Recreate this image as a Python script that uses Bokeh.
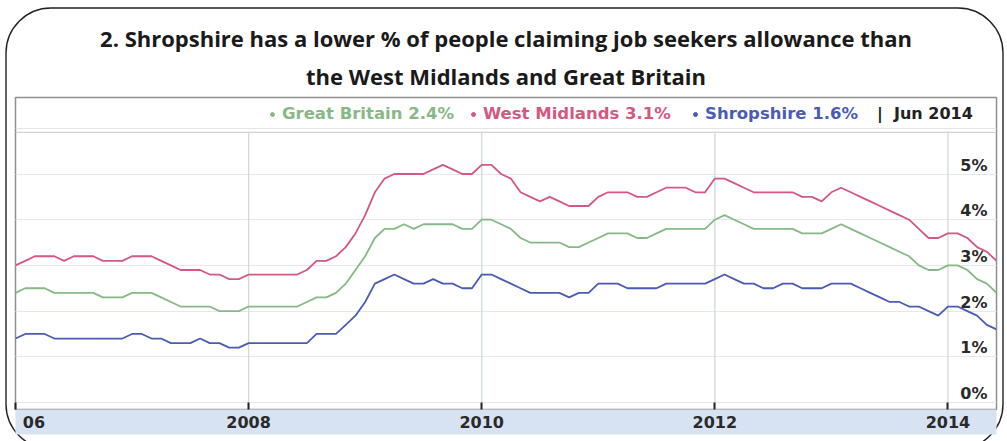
from bokeh.plotting import figure
from bokeh.models import Range1d, FixedTicker, Span, Legend, LegendItem, Grid, Title
from bokeh.core.properties import value
from bokeh.embed import file_html
from bokeh.resources import INLINE

# ---- data (monthly, Jan 2006 .. Jun 2014), % of people claiming JSA ----
start_year = 2006
great_britain = [
    2.4, 2.5, 2.5, 2.5, 2.4, 2.4, 2.4, 2.4, 2.4, 2.3, 2.3, 2.3,
    2.4, 2.4, 2.4, 2.3, 2.2, 2.1, 2.1, 2.1, 2.1, 2.0, 2.0, 2.0,
    2.1, 2.1, 2.1, 2.1, 2.1, 2.1, 2.2, 2.3, 2.3, 2.4, 2.6, 2.9,
    3.2, 3.6, 3.8, 3.8, 3.9, 3.8, 3.9, 3.9, 3.9, 3.9, 3.8, 3.8,
    4.0, 4.0, 3.9, 3.8, 3.6, 3.5, 3.5, 3.5, 3.5, 3.4, 3.4, 3.5,
    3.6, 3.7, 3.7, 3.7, 3.6, 3.6, 3.7, 3.8, 3.8, 3.8, 3.8, 3.8,
    4.0, 4.1, 4.0, 3.9, 3.8, 3.8, 3.8, 3.8, 3.8, 3.7, 3.7, 3.7,
    3.8, 3.9, 3.8, 3.7, 3.6, 3.5, 3.4, 3.3, 3.2, 3.0, 2.9, 2.9,
    3.0, 3.0, 2.9, 2.7, 2.6, 2.4,
]
west_midlands = [
    3.0, 3.1, 3.2, 3.2, 3.2, 3.1, 3.2, 3.2, 3.2, 3.1, 3.1, 3.1,
    3.2, 3.2, 3.2, 3.1, 3.0, 2.9, 2.9, 2.9, 2.8, 2.8, 2.7, 2.7,
    2.8, 2.8, 2.8, 2.8, 2.8, 2.8, 2.9, 3.1, 3.1, 3.2, 3.4, 3.7,
    4.1, 4.6, 4.9, 5.0, 5.0, 5.0, 5.0, 5.1, 5.2, 5.1, 5.0, 5.0,
    5.2, 5.2, 5.0, 4.9, 4.6, 4.5, 4.4, 4.5, 4.4, 4.3, 4.3, 4.3,
    4.5, 4.6, 4.6, 4.6, 4.5, 4.5, 4.6, 4.7, 4.7, 4.7, 4.6, 4.6,
    4.9, 4.9, 4.8, 4.7, 4.6, 4.6, 4.6, 4.6, 4.6, 4.5, 4.5, 4.4,
    4.6, 4.7, 4.6, 4.5, 4.4, 4.3, 4.2, 4.1, 4.0, 3.8, 3.6, 3.6,
    3.7, 3.7, 3.6, 3.4, 3.3, 3.1,
]
shropshire = [
    1.4, 1.5, 1.5, 1.5, 1.4, 1.4, 1.4, 1.4, 1.4, 1.4, 1.4, 1.4,
    1.5, 1.5, 1.4, 1.4, 1.3, 1.3, 1.3, 1.4, 1.3, 1.3, 1.2, 1.2,
    1.3, 1.3, 1.3, 1.3, 1.3, 1.3, 1.3, 1.5, 1.5, 1.5, 1.7, 1.9,
    2.2, 2.6, 2.7, 2.8, 2.7, 2.6, 2.6, 2.7, 2.6, 2.6, 2.5, 2.5,
    2.8, 2.8, 2.7, 2.6, 2.5, 2.4, 2.4, 2.4, 2.4, 2.3, 2.4, 2.4,
    2.6, 2.6, 2.6, 2.5, 2.5, 2.5, 2.5, 2.6, 2.6, 2.6, 2.6, 2.6,
    2.7, 2.8, 2.7, 2.6, 2.6, 2.5, 2.5, 2.6, 2.6, 2.5, 2.5, 2.5,
    2.6, 2.6, 2.6, 2.5, 2.4, 2.3, 2.2, 2.2, 2.1, 2.1, 2.0, 1.9,
    2.1, 2.1, 2.0, 1.9, 1.7, 1.6,
]
series_names = ["Great Britain", "West Midlands", "Shropshire"]
latest_label = "Jun 2014"
x_ticks = [2006, 2008, 2010, 2012, 2014]
x_tick_labels = ["\u2007\u200706", "2008", "2010", "2012", "2014"]
y_ticks = [0, 1, 2, 3, 4, 5]
y_tick_labels = ["0%", "1%", "2%", "3%", "4%", "5%"]
title_line1 = "2. Shropshire has a lower % of people claiming job seekers allowance than"
title_line2 = "the West Midlands and Great Britain"

# ---- styling ----
colors = ["#86b986", "#d4587f", "#4a5bb4"]
label_font = "DejaVu Sans"
title_font = "Open Sans"
strip_bottom = 5.91  # separator between legend strip and plotting area
y_lo, y_hi = -0.153, 6.674

x = [start_year + i / 12 for i in range(len(great_britain))]

p = figure(width=1007, height=441, output_backend="svg", toolbar_location=None,
           x_range=Range1d(x[0], x[-1]), y_range=Range1d(y_lo, y_hi),
           y_axis_location=None, min_border_left=15, min_border_right=11,
           min_border_top=97, min_border_bottom=32)
p.background_fill_color = "white"
p.border_fill_color = None
p.outline_line_color = "#8f8f8f"
p.outline_line_width = 1.5
p.xgrid.visible = False

# rounded page frame behind the figure (decoration of the source document)
frame_svg = ("<svg xmlns='http://www.w3.org/2000/svg' width='1007' height='441'>"
             "<rect x='6' y='8' width='997' height='441' rx='45' ry='45' fill='white' "
             "stroke='%23222' stroke-width='1.4'/></svg>")
p.styles = {"background-image": f"url(\"data:image/svg+xml;utf8,{frame_svg}\")",
            "background-repeat": "no-repeat", "background-color": "white"}

# two centred title lines (the Title added later sits nearer the plot)
p.title.text = title_line1
p.title.align = "center"
p.title.text_font = title_font
p.title.text_font_size = "22px"
p.title.text_font_style = "bold"
p.title.text_color = "#1a1a1a"
p.title.text_line_height = 0.85
p.title.standoff = 0
p.add_layout(Title(text=title_line2, align="center", text_font=title_font,
                   text_font_size="22px", text_font_style="bold",
                   text_color="#1a1a1a", text_line_height=0.85, standoff=13), "above")

# horizontal grid
p.add_layout(Grid(dimension=1, ticker=FixedTicker(ticks=y_ticks),
                  grid_line_color="#e7e7f1", grid_line_width=1.2))
# vertical year lines
p.segment(x0=x_ticks[1:], y0=[y_lo] * 4, x1=x_ticks[1:], y1=[strip_bottom] * 4,
          line_color="#cfdccf", line_width=1.3)
p.add_layout(Span(location=strip_bottom, dimension="width",
                  line_color="#d2d2d2", line_width=1.3))

# x axis with band
ax = p.xaxis[0]
ax.ticker = FixedTicker(ticks=x_ticks)
ax.major_label_overrides = dict(zip(x_ticks, x_tick_labels))
ax.axis_line_color = None
ax.major_tick_in = 7
ax.major_tick_out = 0
ax.major_tick_line_color = "#222222"
ax.major_tick_line_width = 2
ax.minor_tick_line_color = None
ax.major_label_standoff = 3
ax.major_label_text_font = label_font
ax.major_label_text_font_style = "bold"
ax.major_label_text_font_size = "16px"
ax.major_label_text_color = "#2a2a2a"
ax.background_fill_color = "#d7e3f3"

# y tick labels inside plot, on the right
p.text(x=[x[-1]] * len(y_ticks), y=y_ticks, text=y_tick_labels,
       text_align="right", text_baseline="alphabetic", x_offset=-9, y_offset=-9,
       text_font=value(label_font), text_font_style="bold", text_font_size="16px",
       text_color="#2a2a2a")

# series
all_series = [great_britain, west_midlands, shropshire]
legend_x = [252, 453, 675]
for name, vals, col, lx in zip(series_names, all_series, colors, legend_x):
    p.line(x, vals, line_color=col, line_width=1.8)
    dot = p.scatter(x[-1:], vals[-1:], size=9, color=col, visible=False)
    leg = Legend(items=[LegendItem(label=f"{name} {vals[-1]}%", renderers=[dot])],
                 location=(lx, 286), orientation="horizontal",
                 glyph_width=10, glyph_height=16, label_standoff=5, padding=0, margin=0,
                 border_line_color=None, background_fill_alpha=0,
                 label_text_color=col, label_text_font=label_font,
                 label_text_font_style="bold", label_text_font_size="16.5px")
    p.add_layout(leg)

dummy = p.scatter(x[-1:], west_midlands[-1:], size=0, visible=False)
p.add_layout(Legend(items=[LegendItem(label="|  " + latest_label, renderers=[dummy])],
                    location=(862, 286), glyph_width=0, glyph_height=16, label_standoff=0,
                    padding=0, margin=0, border_line_color=None, background_fill_alpha=0,
                    label_text_color="#222222", label_text_font=label_font,
                    label_text_font_style="bold", label_text_font_size="16px"))

open("out.html", "w").write(file_html(p, INLINE))
